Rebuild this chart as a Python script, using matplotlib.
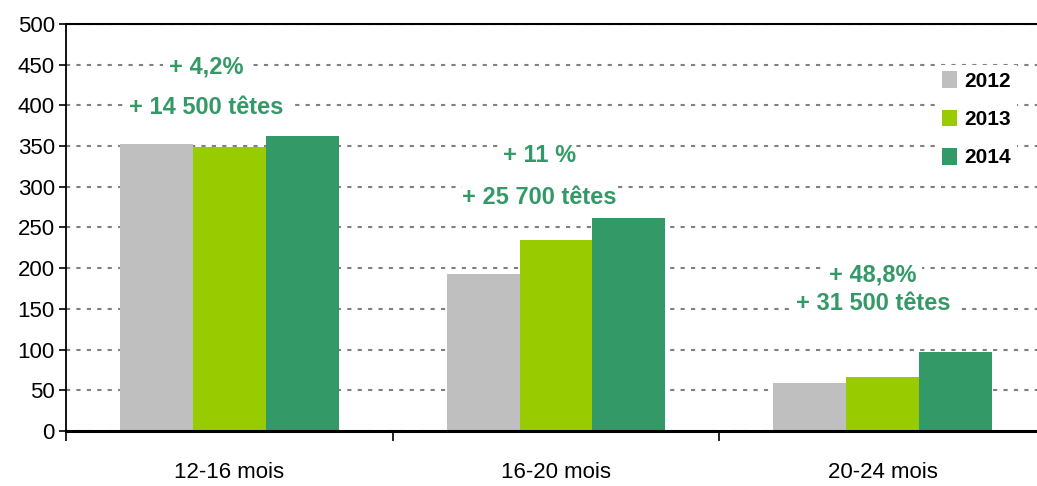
import matplotlib
matplotlib.use('Agg')
import matplotlib.pyplot as plt
from matplotlib import font_manager
import numpy as np

categories = ['12-16 mois', '16-20 mois', '20-24 mois']
years = ['2012', '2013', '2014']
v2012 = [352, 193, 59]
v2013 = [349, 235, 66]
v2014 = [363, 262, 97]
pct_labels = ['+ 4,2%', '+ 11 %', '+ 48,8%']
head_labels = ['+ 14 500 têtes', '+ 25 700 têtes', '+ 31 500 têtes']

colors = ['#BFBFBF', '#99CC00', '#339966']
txt_green = '#339966'

# narrow font for axis labels if available
try:
    font_manager.findfont('Liberation Sans Narrow', fallback_to_default=False)
    narrow, lab_size, leg_size = 'Liberation Sans Narrow', 18, 18
except Exception:
    narrow, lab_size, leg_size = 'Liberation Sans', 16, 15

plt.rcParams['font.family'] = ['Liberation Sans', 'DejaVu Sans']

fig = plt.figure(figsize=(10.37, 4.86), dpi=100)
ax = fig.add_axes([0.0636, 0.1132, 0.945, 0.8374])

x = np.arange(len(categories))
w = 0.223
for i, vals in enumerate([v2012, v2013, v2014]):
    ax.bar(x + (i - 1) * w, vals, width=w, color=colors[i], label=years[i], zorder=2)

ax.set_xlim(-0.5, 2.5)
ax.set_ylim(0, 500)
ax.set_yticks(range(0, 501, 50))
ax.yaxis.grid(True, color='#808080', linestyle=(0, (2, 3)), linewidth=1.5, zorder=0)
ax.set_axisbelow(True)

ax.set_xticks(x)
ax.set_xticklabels(categories, fontsize=lab_size, family=narrow)
ax.set_xticks([-0.5, 0.5, 1.5, 2.5], minor=True)
ax.tick_params(axis='x', which='major', length=0, pad=22)
ax.tick_params(axis='x', which='minor', length=7, width=1.2, direction='out')
ax.tick_params(axis='y', length=5, width=1.2, direction='out', pad=3)
for lab in ax.get_yticklabels():
    lab.set_fontsize(lab_size)
    lab.set_family(narrow)

ax.spines['right'].set_visible(False)
ax.spines['top'].set_linewidth(1.5)
ax.spines['left'].set_linewidth(1.3)
ax.spines['bottom'].set_linewidth(2.2)

# annotations
pct_y = [447, 338, 192]
head_y = [398, 287, 157]
ann_x = [-0.07, -0.05, -0.03]
pads = [4, 0, 4]
for i in range(3):
    ax.text(x[i] + ann_x[i], pct_y[i], pct_labels[i], ha='center', va='center',
            fontsize=17, fontweight='bold', color=txt_green, zorder=3,
            bbox=dict(facecolor='white', edgecolor='none', pad=pads[i]))
    ax.text(x[i] + ann_x[i], head_y[i], head_labels[i], ha='center', va='center',
            fontsize=17, fontweight='bold', color=txt_green, zorder=3,
            bbox=dict(facecolor='white', edgecolor='none', pad=pads[i]))

leg = ax.legend(loc='upper left', bbox_to_anchor=(0.902, 0.866), bbox_transform=fig.transFigure,
                frameon=True, fancybox=False, edgecolor='none', facecolor='white', framealpha=1,
                handlelength=0.75, handleheight=0.85, handletextpad=0.35, labelspacing=0.9,
                borderpad=0.3, borderaxespad=0,
                prop={'family': narrow, 'weight': 'bold', 'size': leg_size})

plt.savefig('out.png', dpi=100)
